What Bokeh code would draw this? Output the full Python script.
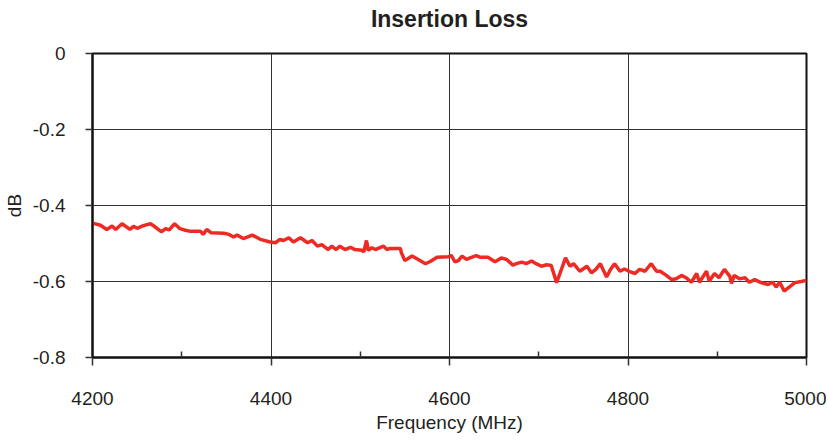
from bokeh.plotting import figure
from bokeh.models import ColumnDataSource, Range1d, FixedTicker, LinearAxis
from bokeh.embed import file_html
from bokeh.resources import INLINE

freq = [4201,4209,4216,4222,4226,4233,4242,4246,4250,4257,4265,4270,4277,4282,4286,4292,4298,4304,4310,4321,
        4324,4328,4333,4347,4353,4358,
        4362,4369,4379,4388,4399,4405,4410,4414,4420,4425,4433,4441,4446,4452,4457,4464,4468,4473,4477,4483,
        4489,4494,4502,4504,4507,4509,4513,4517,
        4522,4526,4530,4533,4545,4546,4550,4558,4565,4573,4578,4586,4599,4602,4606,4610,4614,4619,4623,4630,
        4634,4643,4651,4658,4664,4671,
        4675,4681,4686,4692,4697,4703,4709,4714,4720,4726,4730,4735,4739,4746,4754,4759,4764,4769,4776,4780,
        4785,4791,4796,4802,4808,4813,4819,4826,4832,
        4836,4843,4849,4854,4860,4865,4871,4877,4880,4888,4891,4897,4902,4908,4914,4916,4919,4925,4931,4936,
        4942,4949,4957,4962,4966,4970,4975,4981,4987,4994,5000]
loss = [-0.447,-0.452,-0.463,-0.454,-0.463,-0.448,-0.463,-0.455,-0.460,-0.453,-0.448,-0.456,-0.469,-0.461,
        -0.464,-0.448,-0.461,-0.465,-0.468,-0.468,-0.476,-0.463,-0.472,-0.473,-0.476,-0.483,
        -0.478,-0.487,-0.478,-0.489,-0.496,-0.498,-0.489,-0.492,-0.485,-0.496,-0.485,-0.498,-0.492,-0.507,
        -0.503,-0.516,-0.507,-0.516,-0.507,-0.516,-0.510,-0.516,-0.518,-0.522,-0.492,-0.518,-0.511,-0.516,
        -0.511,-0.507,-0.516,-0.513,-0.513,-0.524,-0.545,-0.533,-0.542,-0.553,-0.548,-0.536,-0.535,-0.531,
        -0.548,-0.545,-0.533,-0.542,-0.538,-0.532,-0.536,-0.536,-0.548,-0.538,-0.542,-0.557,
        -0.553,-0.549,-0.553,-0.546,-0.553,-0.560,-0.556,-0.558,-0.603,-0.564,-0.538,-0.560,-0.553,-0.573,
        -0.560,-0.577,-0.568,-0.553,-0.588,-0.570,-0.553,-0.573,-0.567,-0.574,-0.579,-0.568,-0.573,-0.553,-0.573,
        -0.573,-0.584,-0.595,-0.593,-0.584,-0.590,-0.602,-0.579,-0.602,-0.573,-0.599,-0.579,-0.590,-0.568,
        -0.586,-0.605,-0.584,-0.593,-0.590,-0.602,-0.595,-0.603,-0.608,-0.602,-0.614,-0.602,-0.625,-0.614,
        -0.603,-0.600,-0.597]

title_text = "Insertion Loss"
x_ticks = [4200, 4400, 4600, 4800, 5000]
x_minor = [4300, 4500, 4700, 4900]
y_ticks = [-0.8, -0.6, -0.4, -0.2, 0]
y_labels = {-0.8: "-0.8", -0.6: "-0.6", -0.4: "-0.4", -0.2: "-0.2", 0: "0"}
x_labels = {4200: "4200", 4400: "4400", 4600: "4600", 4800: "4800", 5000: "5000"}

FONT = "Liberation Sans"
TXT = "#231f20"

p = figure(width=826, height=439, output_backend="svg", toolbar_location=None,
           x_range=Range1d(4200, 5000), y_range=Range1d(-0.8, 0),
           min_border_left=91, min_border_right=20, min_border_top=53, min_border_bottom=82)

bottom = p.below[0]
left = p.left[0]

# chart title, drawn as the label of a bare axis above the frame so it sits at the top edge
top_axis = LinearAxis(ticker=FixedTicker(ticks=[], minor_ticks=[]), axis_label=title_text,
                      axis_line_color=None, major_tick_line_color=None, minor_tick_line_color=None,
                      major_label_standoff=0, major_tick_out=0, minor_tick_out=0,
                      axis_label_text_font=FONT, axis_label_text_font_size="23px",
                      axis_label_text_font_style="bold", axis_label_text_color=TXT,
                      axis_label_standoff=22)
p.add_layout(top_axis, "above")

src = ColumnDataSource(dict(f=freq, l=loss))
p.line("f", "l", source=src, line_color="#ee2a24", line_width=3.5)

p.outline_line_color = "#111111"
p.outline_line_width = 2

bottom.ticker = FixedTicker(ticks=x_ticks, minor_ticks=x_minor)
left.ticker = FixedTicker(ticks=y_ticks, minor_ticks=[])
left.major_label_overrides = y_labels
bottom.major_label_overrides = x_labels

for ax in (bottom, left):
    ax.axis_line_color = "#111111"
    ax.axis_line_width = 2
    ax.major_tick_line_color = "#333333"
    ax.major_tick_line_width = 1.5
    ax.major_tick_in = 0
    ax.major_label_text_font = FONT
    ax.major_label_text_font_size = "19px"
    ax.major_label_text_color = TXT
    ax.axis_label_text_font = FONT
    ax.axis_label_text_font_size = "19px"
    ax.axis_label_text_font_style = "normal"
    ax.axis_label_text_color = TXT

bottom.major_tick_out = 8
bottom.minor_tick_in = 6
bottom.minor_tick_out = 0
bottom.minor_tick_line_color = "#333333"
bottom.minor_tick_line_width = 1.5
bottom.major_label_standoff = 26
bottom.axis_label = "Frequency (MHz)"
bottom.axis_label_standoff = 4

left.major_tick_out = 7
left.minor_tick_in = 0
left.minor_tick_out = 0
left.major_label_standoff = 20
left.axis_label = "dB"
left.axis_label_standoff = 5

p.xgrid.ticker = FixedTicker(ticks=x_ticks)
p.ygrid.ticker = FixedTicker(ticks=y_ticks)
p.xgrid.grid_line_color = "#333333"
p.ygrid.grid_line_color = "#333333"
p.xgrid.grid_line_width = 1
p.ygrid.grid_line_width = 1

open("out.html", "w").write(file_html(p, INLINE))
